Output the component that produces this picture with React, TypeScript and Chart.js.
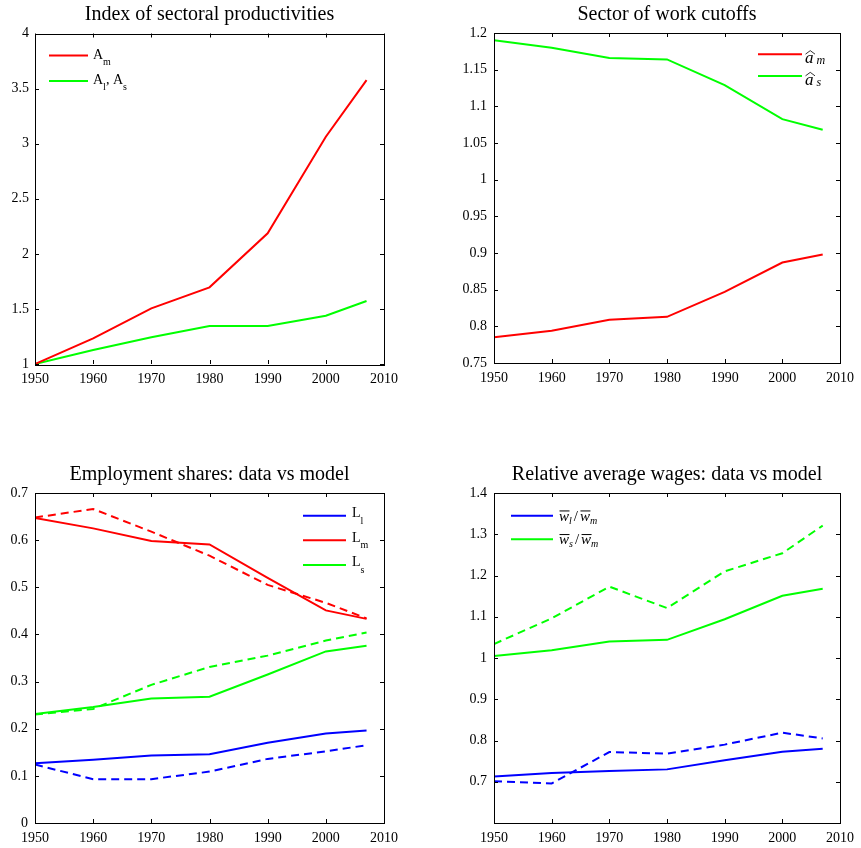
import React, { useEffect, useRef } from 'react';
import { Chart, registerables } from 'chart.js';
Chart.register(...registerables);
Chart.defaults.color = '#000';

const years = [1950, 1960, 1970, 1980, 1990, 2000, 2007];
const xTicks = [1950, 1960, 1970, 1980, 1990, 2000, 2010];

const prodAm = [1, 1.233, 1.505, 1.696, 2.186, 3.063, 3.577];
const prodAls = [1, 1.127, 1.242, 1.345, 1.345, 1.438, 1.572];

const cutAm = [0.785, 0.794, 0.809, 0.813, 0.847, 0.887, 0.898];
const cutAs = [1.19, 1.18, 1.166, 1.164, 1.129, 1.0825, 1.068];

const empLlModel = [0.127, 0.134, 0.143, 0.146, 0.17, 0.19, 0.196];
const empLlData = [0.124, 0.093, 0.093, 0.109, 0.136, 0.152, 0.165];
const empLmModel = [0.647, 0.625, 0.598, 0.591, 0.52, 0.451, 0.433];
const empLmData = [0.648, 0.666, 0.618, 0.567, 0.505, 0.467, 0.434];
const empLsModel = [0.231, 0.246, 0.264, 0.268, 0.315, 0.364, 0.376];
const empLsData = [0.23, 0.242, 0.293, 0.331, 0.355, 0.387, 0.404];

const wageLModel = [0.713, 0.721, 0.726, 0.73, 0.752, 0.773, 0.78];
const wageLData = [0.701, 0.696, 0.772, 0.768, 0.79, 0.819, 0.805];
const wageSModel = [1.005, 1.019, 1.04, 1.044, 1.094, 1.151, 1.168];
const wageSData = [1.034, 1.096, 1.173, 1.121, 1.21, 1.254, 1.321];

const titles = [
  'Index of sectoral productivities',
  'Sector of work cutoffs',
  'Employment shares: data vs model',
  'Relative average wages: data vs model',
];

const RED = '#ff0000';
const GREEN = '#00ff00';
const BLUE = '#0000ff';
const FONT = '"Liberation Serif", "Times New Roman", serif';

type Part = { t: string; sub?: boolean; italic?: boolean; over?: boolean; hat?: boolean; space?: number };
type LegItem = { color: string; parts: Part[] };

const legendA: LegItem[] = [
  { color: RED, parts: [{ t: 'A' }, { t: 'm', sub: true }] },
  { color: GREEN, parts: [{ t: 'A' }, { t: 'l', sub: true }, { t: ', A' }, { t: 's', sub: true }] },
];
const legendB: LegItem[] = [
  { color: RED, parts: [{ t: 'a', italic: true, hat: true, space: 3 }, { t: 'm', sub: true, italic: true }] },
  { color: GREEN, parts: [{ t: 'a', italic: true, hat: true, space: 3 }, { t: 's', sub: true, italic: true }] },
];
const legendC: LegItem[] = [
  { color: BLUE, parts: [{ t: 'L' }, { t: 'l', sub: true }] },
  { color: RED, parts: [{ t: 'L' }, { t: 'm', sub: true }] },
  { color: GREEN, parts: [{ t: 'L' }, { t: 's', sub: true }] },
];
const legendD: LegItem[] = [
  {
    color: BLUE,
    parts: [
      { t: 'w', italic: true, over: true },
      { t: 'l', sub: true, italic: true, space: 2 },
      { t: '/', space: 2 },
      { t: 'w', italic: true, over: true },
      { t: 'm', sub: true, italic: true },
    ],
  },
  {
    color: GREEN,
    parts: [
      { t: 'w', italic: true, over: true },
      { t: 's', sub: true, italic: true, space: 2 },
      { t: '/', space: 2 },
      { t: 'w', italic: true, over: true },
      { t: 'm', sub: true, italic: true },
    ],
  },
];

const mathLegend = {
  id: 'mathLegend',
  afterDatasetsDraw(chart: any, _args: any, opts: any) {
    if (!opts || !opts.items) return;
    const { ctx, chartArea } = chart;
    opts.items.forEach((it: LegItem, i: number) => {
      const y = chartArea.top + opts.y0 + i * opts.dy;
      const x0 = chartArea.left + opts.x;
      ctx.save();
      ctx.strokeStyle = it.color;
      ctx.lineWidth = 2;
      ctx.beginPath();
      ctx.moveTo(x0, y);
      ctx.lineTo(x0 + opts.lineLen, y);
      ctx.stroke();
      let x = x0 + opts.lineLen + opts.gap;
      ctx.fillStyle = '#000';
      ctx.strokeStyle = '#000';
      ctx.textAlign = 'left';
      ctx.textBaseline = 'alphabetic';
      for (const p of it.parts) {
        const size = p.sub ? opts.subSize : opts.size;
        ctx.font = `${p.italic ? 'italic ' : ''}${size}px ${FONT}`;
        const by = y + opts.baseDy + (p.sub ? opts.subDy : 0);
        const w = ctx.measureText(p.t).width;
        ctx.fillText(p.t, x, by);
        if (p.over) {
          const oy = by - size * 0.45 - 3;
          ctx.lineWidth = 1;
          ctx.beginPath();
          ctx.moveTo(x + 0.5, oy);
          ctx.lineTo(x + w + 0.5, oy);
          ctx.stroke();
        }
        if (p.hat) {
          const base = by - size * 0.45 - 1.5;
          ctx.lineWidth = 0.8;
          ctx.beginPath();
          ctx.moveTo(x + 0.5, base);
          ctx.lineTo(x + w / 2 + 1, base - 3.5);
          ctx.lineTo(x + w + 1.5, base);
          ctx.stroke();
        }
        x += w + (p.space || 0);
      }
      ctx.restore();
    });
  },
};

const frame = {
  id: 'frame',
  afterDraw(chart: any) {
    const { ctx, chartArea } = chart;
    const { left, right, top, bottom } = chartArea;
    const xs = chart.scales.x;
    const ys = chart.scales.y;
    const L = 4;
    ctx.save();
    ctx.strokeStyle = '#000';
    ctx.lineWidth = 1;
    ctx.beginPath();
    for (const t of xs.ticks) {
      const px = Math.round(xs.getPixelForValue(t.value)) + 0.5;
      ctx.moveTo(px, bottom);
      ctx.lineTo(px, bottom - L);
      ctx.moveTo(px, top);
      ctx.lineTo(px, top + L);
    }
    for (const t of ys.ticks) {
      const py = Math.round(ys.getPixelForValue(t.value)) + 0.5;
      ctx.moveTo(left, py);
      ctx.lineTo(left + L, py);
      ctx.moveTo(right, py);
      ctx.lineTo(right - L, py);
    }
    ctx.stroke();
    ctx.strokeRect(Math.round(left) + 0.5, Math.round(top) + 0.5, Math.round(right - left), Math.round(bottom - top));
    ctx.restore();
  },
};

Chart.register(mathLegend, frame);

const fmt = (v: number) => String(parseFloat(Number(v).toFixed(3)));

type Panel = {
  W: number;
  H: number;
  area: { left: number; right: number; top: number; bottom: number };
  titleTop: number;
  title: string;
  ymin: number;
  ymax: number;
  ystep: number;
  hideMin?: boolean;
  yPad: number;
  datasets: any[];
  legend: any;
};

function line(data: number[], color: string, dashed = false) {
  return {
    data: data.map((v, i) => ({ x: years[i], y: v })),
    borderColor: color,
    backgroundColor: color,
    borderWidth: 2,
    borderDash: dashed ? [8, 5] : [],
    pointRadius: 0,
    tension: 0,
    fill: false,
  };
}

function buildConfig(p: Panel): any {
  const titleSize = 20;
  const titleH = titleSize * 1.2;
  const padBottom = p.area.top - p.titleTop - titleH;
  return {
    type: 'line',
    data: { datasets: p.datasets },
    options: {
      responsive: false,
      animation: false,
      events: [],
      layout: { padding: { left: 0, top: 0, bottom: 0, right: p.W - p.area.right } },
      plugins: {
        legend: { display: false },
        tooltip: { enabled: false },
        title: {
          display: true,
          text: p.title,
          fullSize: false,
          color: '#000',
          font: { family: FONT, size: titleSize, weight: 'normal', lineHeight: 1.2 },
          padding: { top: p.titleTop, bottom: padBottom },
        },
        mathLegend: p.legend,
      },
      scales: {
        x: {
          type: 'linear',
          min: 1950,
          max: 2010,
          afterBuildTicks: (s: any) => {
            s.ticks = xTicks.map((v) => ({ value: v }));
          },
          afterFit: (s: any) => {
            s.height = p.H - p.area.bottom;
          },
          grid: { display: false, drawTicks: false },
          border: { display: false },
          ticks: {
            padding: 7,
            maxRotation: 0,
            autoSkip: false,
            color: '#000',
            font: { family: FONT, size: 14 },
            callback: (v: number) => String(v),
          },
        },
        y: {
          type: 'linear',
          min: p.ymin,
          max: p.ymax,
          afterFit: (s: any) => {
            s.width = p.area.left;
          },
          grid: { display: false, drawTicks: false },
          border: { display: false },
          ticks: {
            stepSize: p.ystep,
            padding: p.yPad,
            autoSkip: false,
            color: '#000',
            font: { family: FONT, size: 14 },
            callback: (v: number) => (p.hideMin && Math.abs(v - p.ymin) < 1e-9 ? '' : fmt(v)),
          },
        },
      },
    },
  };
}

const panels: { left: number; top: number; cfg: Panel }[] = [
  {
    left: 0,
    top: 0,
    cfg: {
      W: 430,
      H: 424,
      area: { left: 35, right: 384, top: 33.5, bottom: 364 },
      titleTop: 2.5,
      title: titles[0],
      ymin: 1,
      ymax: 4,
      ystep: 0.5,
      yPad: 6,
      datasets: [line(prodAm, RED), line(prodAls, GREEN)],
      legend: { items: legendA, x: 14, y0: 22, dy: 25.5, lineLen: 39, gap: 5, size: 14, subSize: 10, baseDy: 3, subDy: 6 },
    },
  },
  {
    left: 430,
    top: 0,
    cfg: {
      W: 431,
      H: 424,
      area: { left: 64, right: 413, top: 33, bottom: 363 },
      titleTop: 2.5,
      title: titles[1],
      ymin: 0.75,
      ymax: 1.2,
      ystep: 0.05,
      yPad: 7,
      datasets: [line(cutAm, RED), line(cutAs, GREEN)],
      legend: { items: legendB, x: 264, y0: 21.3, dy: 21.7, lineLen: 44, gap: 3, size: 17, subSize: 12, baseDy: 9, subDy: 1 },
    },
  },
  {
    left: 0,
    top: 424,
    cfg: {
      W: 430,
      H: 424,
      area: { left: 35, right: 384, top: 69, bottom: 399 },
      titleTop: 39,
      title: titles[2],
      ymin: 0,
      ymax: 0.7,
      ystep: 0.1,
      yPad: 7,
      datasets: [
        line(empLlModel, BLUE),
        line(empLmModel, RED),
        line(empLsModel, GREEN),
        line(empLlData, BLUE, true),
        line(empLmData, RED, true),
        line(empLsData, GREEN, true),
      ],
      legend: { items: legendC, x: 268, y0: 22.7, dy: 24.6, lineLen: 43, gap: 6, size: 14, subSize: 10, baseDy: 1.5, subDy: 6.5 },
    },
  },
  {
    left: 430,
    top: 424,
    cfg: {
      W: 431,
      H: 424,
      area: { left: 64, right: 413, top: 69, bottom: 399 },
      titleTop: 39,
      title: titles[3],
      ymin: 0.6,
      ymax: 1.4,
      ystep: 0.1,
      hideMin: true,
      yPad: 7,
      datasets: [
        line(wageLModel, BLUE),
        line(wageSModel, GREEN),
        line(wageLData, BLUE, true),
        line(wageSData, GREEN, true),
      ],
      legend: { items: legendD, x: 17, y0: 22.7, dy: 23.6, lineLen: 42, gap: 6, size: 15, subSize: 10, baseDy: 5, subDy: 3 },
    },
  },
];

function ChartPanel({ left, top, cfg }: { left: number; top: number; cfg: Panel }) {
  const ref = useRef<HTMLCanvasElement>(null);
  useEffect(() => {
    const chart = new Chart(ref.current as HTMLCanvasElement, buildConfig(cfg));
    return () => chart.destroy();
  }, []);
  return (
    <canvas
      ref={ref}
      width={cfg.W}
      height={cfg.H}
      style={{ position: 'absolute', left, top, width: cfg.W, height: cfg.H }}
    />
  );
}

export default function App() {
  return (
    <div style={{ position: 'absolute', left: 0, top: 0, width: 861, height: 848, background: '#fff' }}>
      {panels.map((p, i) => (
        <ChartPanel key={i} left={p.left} top={p.top} cfg={p.cfg} />
      ))}
    </div>
  );
}
